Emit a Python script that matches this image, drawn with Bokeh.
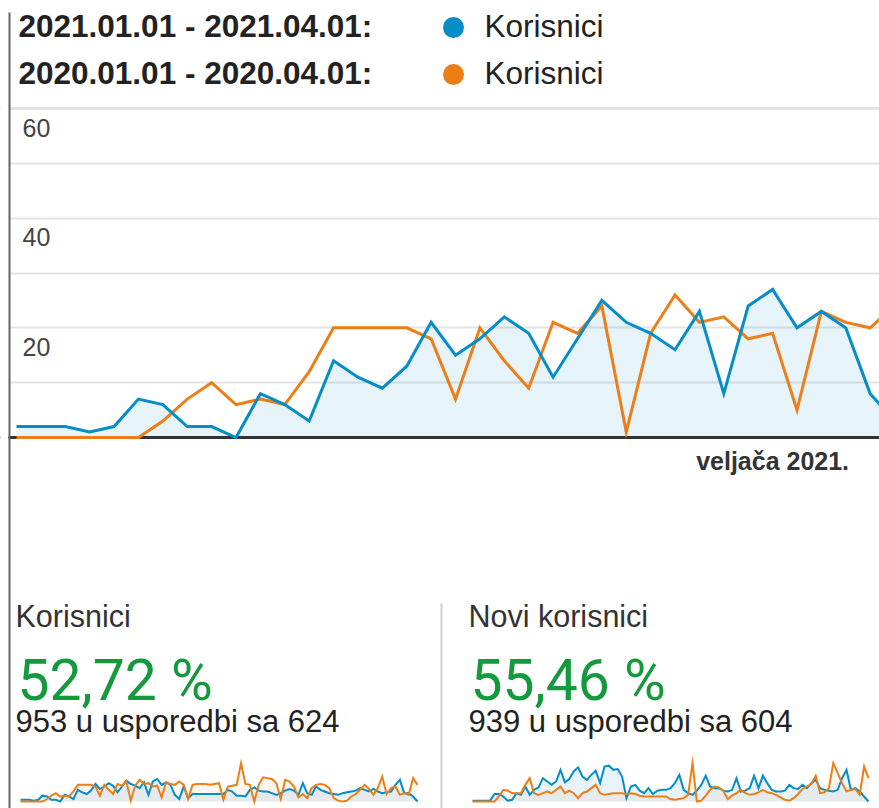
from bokeh.plotting import figure
from bokeh.models import Range1d, FixedTicker, Grid
from bokeh.core.properties import value
from bokeh.embed import file_html
from bokeh.resources import INLINE

W, H = 879, 808

# ---------------- data (daily values, day 0 = 1 Jan) ----------------
users_2021 = [2, 2, 2, 1, 2, 7, 6, 2, 2, 0, 8, 6, 3, 14, 11, 9, 13, 21, 15, 18,
              22, 19, 11, 18, 25, 21, 19, 16, 23, 8, 24, 27, 20, 23, 20, 8, 3,
              18, 4, 9, 9, 9, 9, 9, 9, 9, 9, 14, 12, 7, 7, 6, 14, 17, 13, 12, 12,
              10, 8, 10, 13, 15, 13, 8, 22, 10, 8, 18, 14, 12, 10, 9, 8, 10, 11, 12, 13,
              16, 14, 12, 15, 12, 10, 11, 12, 20, 26, 10, 10, 6, 0]
users_2020 = [0, 0, 0, 0, 0, 0, 3, 7, 10, 6, 7, 6, 12, 20, 20, 20, 20, 18, 7, 20,
              14, 9, 21, 19, 24, 1, 19, 26, 21, 22, 18, 19, 5, 23, 21, 20, 24,
              20, 3, 20, 21, 21, 21, 20, 21, 22, 2, 18, 19, 20, 46, 21, 20, 0, 20, 29, 28,
              27, 22, 3, 26, 24, 18, 5, 9, 4, 16, 20, 21, 20, 16, 4, 1, 0, 1, 6, 9,
              14, 20, 15, 8, 16, 30, 9, 16, 18, 8, 10, 8, 28, 20]
new_2021 = [1, 1, 1, 1, 1, 9, 9, 6, 1, 2, 10, 8, 18, 8, 14, 17, 28, 24, 20, 24,
            38, 23, 27, 36, 41, 30, 26, 32, 37, 22, 42, 43, 38, 39, 30, 4, 18, 20, 13, 10,
            16, 9, 13, 14, 14, 16, 22, 32, 14, 10, 8, 13, 20, 31, 18, 16, 16, 13, 12, 14,
            28, 12, 13, 16, 31, 16, 31, 22, 14, 12, 12, 13, 20, 16, 15, 20, 16, 22, 26, 16,
            14, 13, 12, 14, 28, 38, 14, 16, 12, 6, 0]
new_2020 = [0, 0, 0, 0, 0, 0, 6, 14, 13, 10, 10, 10, 20, 28, 10, 8, 10, 12, 10, 14,
            18, 10, 13, 10, 4, 10, 12, 16, 20, 10, 8, 9, 10, 10, 10, 9, 10, 9, 7, 6,
            6, 6, 6, 6, 6, 3, 2, 3, 4, 8, 46, 0, 1, 7, 14, 18, 17, 13, 3, 7,
            10, 14, 10, 8, 9, 11, 14, 11, 10, 8, 5, 2, 1, 4, 9, 15, 18, 21, 31, 10,
            11, 16, 46, 34, 22, 12, 14, 15, 8, 42, 28]
days = list(range(len(users_2021)))
MAIN_N = 37  # days visible in the main chart

period_2021 = "2021.01.01 - 2021.04.01:"
period_2020 = "2020.01.01 - 2020.04.01:"
metric_name = "Korisnici"
grid_ticks = [10, 20, 30, 40, 50, 60]
y_tick_labels = [20, 40, 60]
month_label = "veljača 2021."
month_day = 31
kpi_titles = ["Korisnici", "Novi korisnici"]
kpi_change = ["52,72 %", "55,46 %"]
kpi_compare = ["953 u usporedbi sa 624", "939 u usporedbi sa 604"]

BLUE = "#058dc7"
ORANGE = "#ed7e17"
GREEN = "#149a3c"
FONT = value("Liberation Sans")
SHIFT = 0.39  # baseline correction, fraction of font size


def rng(v0, px0, ppu, total):
    start = v0 - px0 / ppu
    return Range1d(start, start + total / ppu)


def up(y, size):
    return y - SHIFT * size


KX = 24.39
KY = 329 / 60
p = figure(width=W, height=H,
           x_range=rng(0, 16, KX, W), y_range=rng(0, H - 437, KY, H),
           x_axis_location=None, y_axis_location=None,
           toolbar_location=None, output_backend="svg",
           min_border=0, outline_line_color=None)
p.extra_x_ranges = {"px": Range1d(0, W),
                    "s1x": rng(0, 20, 397 / 90, W),
                    "s2x": rng(0, 472, 396 / 90, W)}
p.extra_y_ranges = {"py": Range1d(H, 0),
                    "sy": rng(0, H - 801, 0.8333, H)}

for r in list(p.center):
    if isinstance(r, Grid):
        r.visible = False
p.add_layout(Grid(dimension=1, ticker=FixedTicker(ticks=grid_ticks),
                  grid_line_color="#e4e4e4", grid_line_width=2))

PX = dict(x_range_name="px", y_range_name="py")

# ---------------- main chart ----------------
mx = days[:MAIN_N]
p.varea(x=mx, y1=0, y2=users_2021[:MAIN_N], fill_color=BLUE, fill_alpha=0.1)
p.hspan(y=[60], line_color="#e2e2e2", line_width=3)
p.hspan(y=[0], line_color="#333333", line_width=3)
p.line(mx, users_2020[:MAIN_N], line_color=ORANGE, line_width=3, line_join="miter")
p.line(mx, users_2021[:MAIN_N], line_color=BLUE, line_width=3, line_join="miter")

YS = 25
p.text(x=[22] * len(y_tick_labels), y=[t - (29 - SHIFT * YS) / KY for t in y_tick_labels],
       text=[str(t) for t in y_tick_labels], x_range_name="px",
       text_font=FONT, text_font_size=f"{YS}px", text_color="#444444",
       text_baseline="alphabetic", text_align="left")
MS = 25
p.text(x=[month_day], y=[-(33 - SHIFT * MS) / KY], text=[month_label],
       text_font=FONT, text_font_size=f"{MS}px", text_font_style="bold",
       text_color="#333333", text_baseline="alphabetic", text_align="center")

# ---------------- sparklines ----------------
for xr, b, o in (("s1x", users_2021, users_2020), ("s2x", new_2021, new_2020)):
    kw = dict(x_range_name=xr, y_range_name="sy")
    p.varea(x=days, y1=0, y2=o, fill_color=ORANGE, fill_alpha=0.06, **kw)
    p.varea(x=days, y1=0, y2=b, fill_color=BLUE, fill_alpha=0.1, **kw)
    p.line(days, b, line_color=BLUE, line_width=2, line_join="miter", **kw)
    p.line(days, o, line_color=ORANGE, line_width=2, line_join="miter", **kw)

# ---------------- frame decorations ----------------
p.quad(left=[0], right=[8], top=[0], bottom=[H], fill_color="white", line_color=None, **PX)
p.segment(x0=[9], y0=[12], x1=[9], y1=[H], line_color="#666666", line_width=2, **PX)
p.segment(x0=[441], y0=[603], x1=[441], y1=[H], line_color="#cccccc", line_width=2, **PX)

# ---------------- header legend ----------------
HS = 31.5
p.text(x=[18, 18], y=[up(38, HS), up(85, HS)], text=[period_2021, period_2020],
       text_font=FONT, text_font_size=f"{HS}px", text_font_style="bold",
       text_color="#222222", text_baseline="alphabetic", **PX)
p.scatter(x=[453, 453], y=[27, 74], size=21, fill_color=[BLUE, ORANGE],
          line_color=None, **PX)
p.text(x=[484, 484], y=[up(38, HS), up(85, HS)], text=[metric_name, metric_name],
       text_font=FONT, text_font_size=f"{HS}px", text_color="#222222",
       text_baseline="alphabetic", **PX)

# ---------------- KPI blocks ----------------
kx = [15, 468]
TS, GS, CS = 30.5, 57, 31
p.text(x=kx, y=[up(627, TS)] * 2, text=kpi_titles, text_font=FONT,
       text_font_size=f"{TS}px", text_color="#333333", text_baseline="alphabetic", **PX)
p.text(x=[k + 2 for k in kx], y=[up(702, GS)] * 2, text=kpi_change, text_font=value("Roboto"),
       text_font_size=f"{GS}px", text_color=GREEN, text_baseline="alphabetic", **PX)
p.text(x=kx, y=[up(733, CS)] * 2, text=kpi_compare, text_font=FONT,
       text_font_size=f"{CS}px", text_color="#222222", text_baseline="alphabetic", **PX)

open("out.html", "w").write(file_html(p, INLINE))
